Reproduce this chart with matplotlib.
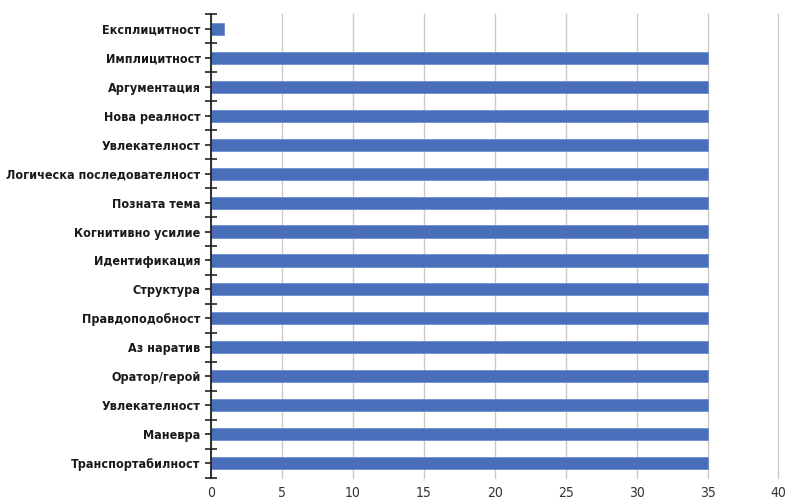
import matplotlib.pyplot as plt
import numpy as np

plt.rcParams['font.family'] = ['DejaVu Sans']

categories = ['Експлицитност', 'Имплицитност', 'Аргументация', 'Нова реалност',
              'Увлекателност', 'Логическа последователност', 'Позната тема',
              'Когнитивно усилие', 'Идентификация', 'Структура', 'Правдоподобност',
              'Аз наратив', 'Оратор/герой', 'Увлекателност', 'Маневра',
              'Транспортабилност']
values = [0.9, 35, 35, 35, 35, 35, 35, 35, 35, 35, 35, 35, 35, 35, 35, 35]
xticks = [0, 5, 10, 15, 20, 25, 30, 35, 40]

fig = plt.figure(figsize=(7.86, 5), dpi=100)
ax = fig.add_axes([0.2684, 0.045, 0.7220, 0.926])

y = np.arange(len(categories))
ax.barh(y, values, height=0.42, color='#4a6fba', edgecolor='#6f8fcf', linewidth=0.6, zorder=3)

ax.set_ylim(len(categories) - 0.5, -0.5)
ax.set_xlim(0, 40)
ax.set_xticks(xticks)
ax.set_xticklabels([str(t) for t in xticks], fontsize=10, color='#333333',
                   fontstretch='condensed')
ax.tick_params(axis='x', length=0, pad=6)

ax.set_yticks(y)
ax.set_yticklabels(categories, fontsize=9, fontweight='bold', color='#1a1a1a',
                   fontstretch='condensed')
ax.set_yticks(np.arange(len(categories) + 1) - 0.5, minor=True)
ax.tick_params(axis='y', which='both', direction='inout', length=9, width=1.2,
               color='#222222', pad=3)

for s in ['top', 'right', 'bottom']:
    ax.spines[s].set_visible(False)
ax.spines['left'].set_color('#222222')
ax.spines['left'].set_linewidth(1.3)
ax.spines['left'].set_zorder(4)

ax.grid(axis='x', color='#cfc8c4', linewidth=1.0, zorder=0)
ax.grid(axis='y', visible=False)
for gl in ax.get_xgridlines():
    gl.set_clip_on(False)

fig.savefig('out.png', dpi=100)
